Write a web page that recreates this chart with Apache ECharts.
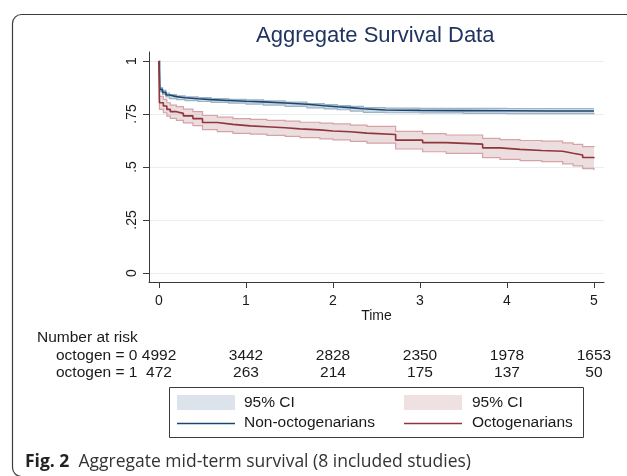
<!DOCTYPE html>
<html>
<head>
<meta charset="utf-8">
<script src="https://cdn.jsdelivr.net/npm/echarts@6/dist/echarts.min.js"></script>
<style>
  html, body { margin: 0; padding: 0; background: #ffffff; }
  #chart { width: 627px; height: 476px; }
</style>
</head>
<body>
<div id="chart"></div>
<script>
// Axis ticks and labels
const timeTicks = [0, 1, 2, 3, 4, 5];
const survTicks = [0, 0.25, 0.5, 0.75, 1];
const survTickLabels = ['0', '.25', '.5', '.75', '1'];

// Number at risk at each yearly tick
const riskNonOcto = [4992, 3442, 2828, 2350, 1978, 1653];
const riskOcto = [472, 263, 214, 175, 137, 50];

// Kaplan-Meier estimate, non-octogenarians (octogen = 0)
const timeNonOcto  = [0, 0.01, 0.04, 0.08, 0.12, 0.2, 0.3, 0.45, 0.6, 0.8, 1.0, 1.2, 1.45, 1.7, 1.9, 2.05, 2.2, 2.35, 2.6, 3.0, 3.5, 4.0, 4.5, 5.0];
const survNonOcto  = [1, 0.866, 0.852, 0.840, 0.832, 0.827, 0.822, 0.818, 0.814, 0.810, 0.807, 0.802, 0.796, 0.789, 0.784, 0.780, 0.775, 0.769, 0.767, 0.766, 0.765, 0.764, 0.764, 0.763];
const lowerNonOcto = [1, 0.857, 0.843, 0.831, 0.823, 0.818, 0.813, 0.809, 0.805, 0.801, 0.797, 0.792, 0.786, 0.779, 0.774, 0.770, 0.764, 0.758, 0.756, 0.755, 0.753, 0.752, 0.752, 0.750];
const upperNonOcto = [1, 0.875, 0.861, 0.849, 0.841, 0.836, 0.831, 0.827, 0.823, 0.819, 0.817, 0.812, 0.806, 0.799, 0.794, 0.790, 0.786, 0.780, 0.778, 0.777, 0.777, 0.776, 0.776, 0.776];

// Kaplan-Meier estimate, octogenarians (octogen = 1)
const timeOcto  = [0, 0.005, 0.05, 0.09, 0.13, 0.2, 0.28, 0.39, 0.5, 0.67, 0.85, 1.05, 1.24, 1.45, 1.62, 1.85, 2.0, 2.2, 2.39, 2.72, 3.03, 3.3, 3.72, 3.92, 4.15, 4.4, 4.64, 4.76, 4.87, 5.0];
const survOcto  = [1, 0.803, 0.788, 0.772, 0.761, 0.753, 0.741, 0.728, 0.710, 0.701, 0.694, 0.690, 0.685, 0.680, 0.675, 0.670, 0.666, 0.660, 0.653, 0.627, 0.615, 0.608, 0.590, 0.583, 0.578, 0.574, 0.565, 0.557, 0.545, 0.541];
const lowerOcto = [1, 0.772, 0.756, 0.740, 0.729, 0.720, 0.708, 0.695, 0.676, 0.667, 0.659, 0.655, 0.649, 0.644, 0.639, 0.633, 0.628, 0.621, 0.613, 0.585, 0.572, 0.564, 0.544, 0.536, 0.530, 0.525, 0.515, 0.505, 0.492, 0.486];
const upperOcto = [1, 0.833, 0.819, 0.803, 0.792, 0.785, 0.773, 0.761, 0.743, 0.735, 0.728, 0.725, 0.720, 0.716, 0.711, 0.707, 0.703, 0.698, 0.692, 0.668, 0.657, 0.651, 0.635, 0.629, 0.625, 0.622, 0.614, 0.607, 0.596, 0.593];

const FONT = '"Liberation Sans", Arial, sans-serif';
const NAVY = '#1a476f';
const MAROON = '#90353b';
const X_MIN = -0.115, X_MAX = 5.115;
const Y_MIN = -0.0425, Y_MAX = 1.0425;

// Step-shaped pixel path of a survival curve, built through the grid's scales
function stepPoints(api, t, v) {
  const pts = [];
  for (let i = 0; i < t.length; i++) {
    pts.push(api.coord([t[i], v[i]]));
    if (i < t.length - 1) pts.push(api.coord([t[i + 1], v[i]]));
  }
  return pts;
}

// Shaded confidence band with outlined edges
function bandSeries(name, t, lo, hi, fill, edge) {
  return {
    name: name,
    type: 'custom',
    coordinateSystem: 'cartesian2d',
    silent: true,
    z: 2,
    data: t.map((x, i) => [x, lo[i], hi[i]]),
    encode: { x: 0, y: [1, 2] },
    renderItem: function (params, api) {
      if (params.dataIndex !== 0) return null;
      const low = stepPoints(api, t, lo);
      const up = stepPoints(api, t, hi);
      return {
        type: 'group',
        children: [
          { type: 'polygon', shape: { points: up.concat(low.slice().reverse()) }, style: { fill: fill, stroke: null } },
          { type: 'polyline', shape: { points: up }, style: { stroke: edge, lineWidth: 1.2, fill: null } },
          { type: 'polyline', shape: { points: low }, style: { stroke: edge, lineWidth: 1.2, fill: null } }
        ]
      };
    }
  };
}

function curveSeries(name, t, s, color) {
  return {
    name: name,
    type: 'line',
    step: 'end',
    symbol: 'none',
    silent: true,
    z: 3,
    data: t.map((x, i) => [x, s[i]]),
    lineStyle: { color: color, width: 1.6 }
  };
}

function riskAxis(values, offset) {
  return {
    type: 'value', gridIndex: 0, position: 'bottom', offset: offset,
    min: X_MIN, max: X_MAX,
    axisLine: { show: false }, axisTick: { show: false }, splitLine: { show: false },
    axisLabel: {
      customValues: timeTicks,
      formatter: v => String(values[timeTicks.indexOf(v)]),
      margin: 0, fontSize: 15.5, color: '#1a1a1a', fontFamily: FONT
    }
  };
}

const chart = echarts.init(document.getElementById('chart'), null, { renderer: 'canvas' });

chart.setOption({
  animation: false,
  backgroundColor: '#ffffff',
  title: {
    text: 'Aggregate Survival Data',
    left: 256, top: 25, padding: 0,
    textStyle: { fontFamily: FONT, fontSize: 22, fontWeight: 'normal', color: '#1f3460' }
  },
  grid: { left: 149, right: 23, top: 52, bottom: 194, containLabel: false },
  xAxis: [
    {
      type: 'value', min: X_MIN, max: X_MAX,
      name: 'Time', nameLocation: 'middle', nameGap: 27,
      nameTextStyle: { fontFamily: FONT, fontSize: 14, color: '#1a1a1a' },
      axisLine: { show: true, onZero: false, lineStyle: { color: '#3a3a3a', width: 1 } },
      axisTick: { show: true, customValues: timeTicks, length: 6, lineStyle: { color: '#3a3a3a' } },
      axisLabel: { customValues: timeTicks, margin: 12, fontSize: 14, color: '#1a1a1a', fontFamily: FONT },
      splitLine: { show: false }
    },
    riskAxis(riskNonOcto, 66),
    riskAxis(riskOcto, 83)
  ],
  yAxis: {
    type: 'value', min: Y_MIN, max: Y_MAX,
    axisLine: { show: true, onZero: false, lineStyle: { color: '#3a3a3a', width: 1 } },
    axisTick: { show: true, customValues: survTicks, length: 6, lineStyle: { color: '#3a3a3a' } },
    axisLabel: {
      customValues: survTicks,
      formatter: v => survTickLabels[survTicks.indexOf(v)],
      rotate: 90, margin: 10, fontSize: 14, color: '#1a1a1a', fontFamily: FONT
    },
    splitLine: { show: true, lineStyle: { color: '#e6eef0', width: 1.2 } }
  },
  series: [
    bandSeries('95% CI (non-octogenarians)', timeNonOcto, lowerNonOcto, upperNonOcto, 'rgba(26,71,111,0.2)', '#9cb2c7'),
    bandSeries('95% CI (octogenarians)', timeOcto, lowerOcto, upperOcto, 'rgba(144,53,59,0.17)', '#d6a2a7'),
    curveSeries('Non-octogenarians', timeNonOcto, survNonOcto, NAVY),
    curveSeries('Octogenarians', timeOcto, survOcto, MAROON)
  ],
  graphic: [
    // figure frame
    { type: 'rect', silent: true, shape: { x: 12.5, y: 14.5, width: 700, height: 462, r: 9 },
      style: { fill: null, stroke: '#3c3c3c', lineWidth: 1.2 } },
    // number-at-risk headings
    { type: 'text', silent: true, style: { text: 'Number at risk', x: 37, y: 338, verticalAlign: 'middle',
      fontFamily: FONT, fontSize: 15.5, fill: '#1a1a1a' } },
    { type: 'text', silent: true, style: { text: 'octogen = 0', x: 56, y: 356, verticalAlign: 'middle',
      fontFamily: FONT, fontSize: 15.5, fill: '#1a1a1a' } },
    { type: 'text', silent: true, style: { text: 'octogen = 1', x: 56, y: 373, verticalAlign: 'middle',
      fontFamily: FONT, fontSize: 15.5, fill: '#1a1a1a' } },
    // legend
    { type: 'rect', silent: true, shape: { x: 169.5, y: 387.5, width: 414, height: 50 },
      style: { fill: '#ffffff', stroke: '#3c3c3c', lineWidth: 1 } },
    { type: 'rect', silent: true, shape: { x: 177, y: 395, width: 58, height: 15 }, style: { fill: '#dce3ea' } },
    { type: 'text', silent: true, style: { text: '95% CI', x: 244, y: 403, verticalAlign: 'middle',
      fontFamily: FONT, fontSize: 15.5, fill: '#1a1a1a' } },
    { type: 'rect', silent: true, shape: { x: 404, y: 395, width: 58, height: 15 }, style: { fill: '#efe0e1' } },
    { type: 'text', silent: true, style: { text: '95% CI', x: 472, y: 403, verticalAlign: 'middle',
      fontFamily: FONT, fontSize: 15.5, fill: '#1a1a1a' } },
    { type: 'line', silent: true, shape: { x1: 177, y1: 423.5, x2: 235, y2: 423.5 }, style: { stroke: NAVY, lineWidth: 1.6 } },
    { type: 'text', silent: true, style: { text: 'Non-octogenarians', x: 244, y: 423, verticalAlign: 'middle',
      fontFamily: FONT, fontSize: 15.5, fill: '#1a1a1a' } },
    { type: 'line', silent: true, shape: { x1: 404, y1: 423.5, x2: 462, y2: 423.5 }, style: { stroke: MAROON, lineWidth: 1.6 } },
    { type: 'text', silent: true, style: { text: 'Octogenarians', x: 472, y: 423, verticalAlign: 'middle',
      fontFamily: FONT, fontSize: 15.5, fill: '#1a1a1a' } },
    // figure caption
    { type: 'text', silent: true, style: {
      text: '{b|Fig. 2}  Aggregate mid-term survival (8 included studies)',
      x: 25, y: 462, verticalAlign: 'middle',
      fontFamily: '"Open Sans", sans-serif', fontSize: 17.5, fill: '#333333',
      rich: { b: { fontFamily: '"Open Sans", sans-serif', fontSize: 17.5, fontWeight: 'bold', fill: '#222222' } }
    } }
  ]
});
</script>
</body>
</html>
